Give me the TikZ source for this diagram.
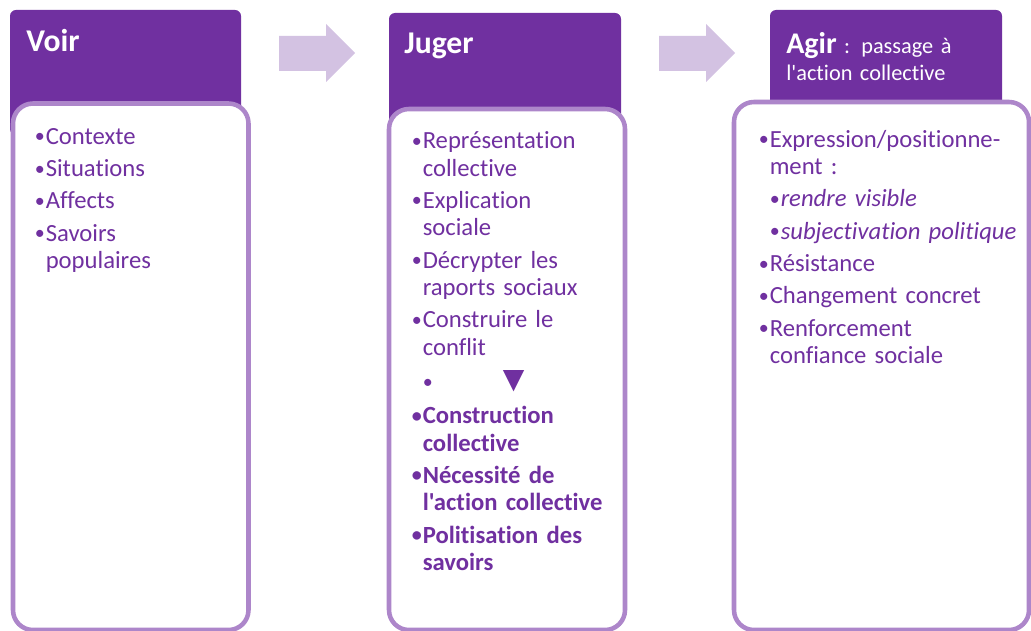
\documentclass[tikz,border=0pt]{standalone}
\usepackage{fontspec}
\setmainfont{Carlito}[Ligatures={TeXOff,NoCommon}]
\newfontfamily\symbfont{DejaVu Sans}
\definecolor{headpurple}{HTML}{7030A0}
\definecolor{framelilac}{HTML}{AD86CA}
\definecolor{arrowlilac}{HTML}{D3C2E2}

\newdimen\pxu
\pxu=0.75pt
\newcommand{\bodysize}{\fontsize{18.5pt}{20.5pt}\selectfont\setlength{\parskip}{3.75pt}}
\newcommand{\dotmark}{\makebox[11\pxu][l]{\raisebox{1.5\pxu}{\fontsize{15pt}{15pt}\selectfont•}}}
\newcommand{\itm}[2][]{\par\hangindent=11\pxu\hangafter=1\noindent\rule{0pt}{20\pxu}{#1\dotmark#2}}
\newcommand{\subitm}[2][]{\par\hangindent=22\pxu\hangafter=1\noindent\rule{0pt}{20\pxu}\hspace*{11\pxu}{\dotmark#1#2}}

\tikzset{
  headbox/.style={fill=headpurple, rounded corners=4.5pt},
  bodybox/.style={draw=framelilac, fill=white, line width=3.4pt, rounded corners=15pt},
  headtext/.style={anchor=base west, inner sep=0pt, text=white, font=\fontsize{23.75pt}{26pt}\selectfont\bfseries},
  bodytext/.style={anchor=north west, inner sep=0pt, text=headpurple, text width=225pt, align=left, font=\bodysize}
}

\begin{document}
\begin{tikzpicture}[x=0.75pt,y=-0.75pt]
  \useasboundingbox (0,0) rectangle (1031,631);
  % headers
  \fill[headbox] (10,10) rectangle (241,135);
  \fill[headbox] (389,13) rectangle (621,135);
  \fill[headbox] (770,10) rectangle (1002,135);
  % bodies
  \draw[bodybox] (13,103.5) rectangle (248.5,630);
  \draw[bodybox] (389,109) rectangle (625,630);
  \draw[bodybox] (734,102) rectangle (1029,630);
  % arrows between the steps
  \foreach \dx in {0,380}
    \fill[arrowlilac] (279+\dx,36) -- (326+\dx,36) -- (326+\dx,24) -- (355+\dx,53)
      -- (326+\dx,82) -- (326+\dx,71) -- (279+\dx,71) -- cycle;

  \node[headtext] (voir) at (26,52) {Voir};
  \node[headtext] (juger) at (404,54) {Juger};
  \node[headtext, anchor=north west, text width=172pt, align=left,
    font=\fontsize{16.75pt}{20.25pt}\selectfont] (agir) at (786,31)
    {\rule{0pt}{22\pxu}{\fontsize{22.5pt}{20pt}\selectfont\bfseries Agir} : passage à\\l'action collective};

  \node[bodytext] (voirlist) at (34.5,111.7) {%
    \itm{Contexte}
    \itm{Situations}
    \itm{Affects}
    \itm{Savoirs\newline populaires}\par};
  \node[bodytext] (jugerlist) at (411.5,116.2) {%
    \itm{Représentation\newline collective}
    \itm{Explication\newline sociale}
    \itm{Décrypter les\newline raports sociaux}
    \itm{Construire le\newline conflit}
    \par\vspace{3\pxu}
    \subitm{\hspace{69\pxu}\raisebox{2\pxu}{\symbfont\fontsize{21pt}{20.5pt}\selectfont ▼}}
    \par\vspace{1\pxu}
    \itm[\bfseries]{Construction\newline collective}
    \itm[\bfseries]{Nécessité de\newline l'action collective}
    \itm[\bfseries]{Politisation des\newline savoirs}\par};
  \node[bodytext] (agirlist) at (758.5,114.7) {%
    \itm{Expression/positionne-\newline ment :}
    \subitm[\itshape]{rendre visible}
    \subitm[\itshape]{subjectivation politique}
    \itm{Résistance}
    \itm{Changement concret}
    \itm{Renforcement\newline confiance sociale}\par};
\end{tikzpicture}
\end{document}
